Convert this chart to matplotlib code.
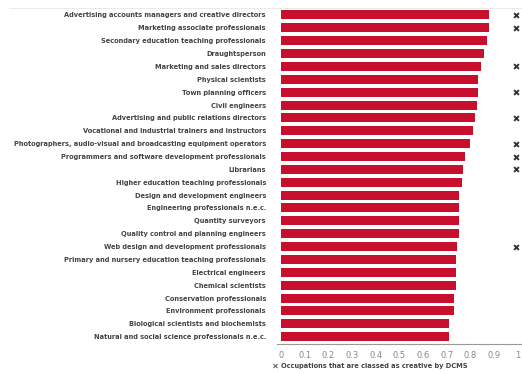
import matplotlib.pyplot as plt
import numpy as np

occupations = [
    "Advertising accounts managers and creative directors",
    "Marketing associate professionals",
    "Secondary education teaching professionals",
    "Draughtsperson",
    "Marketing and sales directors",
    "Physical scientists",
    "Town planning officers",
    "Civil engineers",
    "Advertising and public relations directors",
    "Vocational and industrial trainers and instructors",
    "Photographers, audio-visual and broadcasting equipment operators",
    "Programmers and software development professionals",
    "Librarians",
    "Higher education teaching professionals",
    "Design and development engineers",
    "Engineering professionals n.e.c.",
    "Quantity surveyors",
    "Quality control and planning engineers",
    "Web design and development professionals",
    "Primary and nursery education teaching professionals",
    "Electrical engineers",
    "Chemical scientists",
    "Conservation professionals",
    "Environment professionals",
    "Biological scientists and biochemists",
    "Natural and social science professionals n.e.c.",
]
scores = [0.876, 0.876, 0.870, 0.858, 0.843, 0.831, 0.831, 0.826, 0.819, 0.810,
          0.799, 0.775, 0.768, 0.765, 0.752, 0.752, 0.752, 0.752, 0.741, 0.737,
          0.737, 0.737, 0.731, 0.731, 0.709, 0.709]
creative = [1, 1, 0, 0, 1, 0, 1, 0, 1, 0, 1, 1, 1, 0, 0, 0, 0, 0, 1, 0, 0, 0, 0, 0, 0, 0]
xticks = [0, 0.1, 0.2, 0.3, 0.4, 0.5, 0.6, 0.7, 0.8, 0.9, 1]
xtick_labels = ["0", "0.1", "0.2", "0.3", "0.4", "0.5", "0.6", "0.7", "0.8", "0.9", "1"]

fig = plt.figure(figsize=(5.22, 3.74), dpi=100)
ax = fig.add_axes([277 / 522, 1 - 344 / 374, 244 / 522, 336 / 374])

y = np.arange(len(occupations))
ax.barh(y, scores, height=0.7, color="#c8102e")

# crosses for DCMS creative occupations
cy = [i for i, c in enumerate(creative) if c]
ax.scatter([0.99] * len(cy), cy, marker="x", s=12, linewidths=1.4, color="#333333", clip_on=False, zorder=3)

ax.set_xlim(-0.017, 1.013)
ax.set_ylim(25.57, -0.54)
ax.set_yticks(y)
ax.set_yticklabels(occupations, fontsize=4.8, color="#444444", fontweight="bold")
ax.set_xticks(xticks)
ax.set_xticklabels(xtick_labels, fontsize=6, color="#888888")
ax.tick_params(axis="y", length=0, pad=8)
ax.tick_params(axis="x", length=0, pad=5)

for s in ["top", "right", "left"]:
    ax.spines[s].set_visible(False)
ax.spines["bottom"].set_color("#999999")
ax.spines["bottom"].set_linewidth(0.8)

# faint rule across the top
fig.add_artist(plt.Line2D([9 / 522, 1], [1 - 8 / 374, 1 - 8 / 374], color="#e6e6e6", lw=0.6))

fig.text(272 / 522, 1 - 366 / 374, "\u2715", fontsize=6, color="#333333", fontweight="bold", va="center")
fig.text(281 / 522, 1 - 366 / 374, "Occupations that are classed as creative by DCMS",
         fontsize=4.8, color="#444444", fontweight="bold", va="center")

fig.savefig("out.png", dpi=100)
